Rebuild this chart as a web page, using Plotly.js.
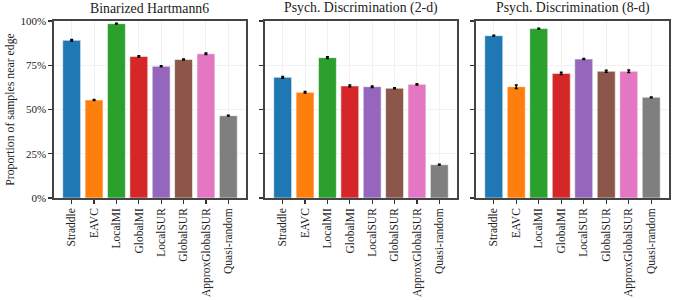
<!DOCTYPE html>
<html><head><meta charset="utf-8">
<script src="https://cdn.plot.ly/plotly-3.0.1.min.js"></script>
<style>body{margin:0;padding:0;background:#fff}#chart{width:675px;height:300px}</style>
</head><body><div id="chart"></div>
<script>
const categories = ["Straddle","EAVC","LocalMI","GlobalMI","LocalSUR","GlobalSUR","ApproxGlobalSUR","Quasi-random"];
const panelTitles = ["Binarized Hartmann6","Psych. Discrimination (2-d)","Psych. Discrimination (8-d)"];
const hartmannValues = [0.891,0.554,0.985,0.800,0.744,0.782,0.815,0.465];
const hartmannErrors = [0.004,0.003,0.002,0.004,0.003,0.003,0.004,0.002];
const psych2dValues = [0.682,0.597,0.793,0.633,0.629,0.620,0.642,0.188];
const psych2dErrors = [0.005,0.004,0.005,0.005,0.004,0.003,0.004,0.002];
const psych8dValues = [0.917,0.629,0.957,0.704,0.785,0.716,0.716,0.569];
const psych8dErrors = [0.002,0.010,0.002,0.006,0.003,0.006,0.007,0.002];
const yTickVals = [0,0.25,0.5,0.75,1];
const yTickText = ["0%","25%","50%","75%","100%"];
const colors = ["#1f77b4","#ff7f0e","#2ca02c","#d62728","#9467bd","#8c564b","#e377c2","#7f7f7f"];

const allValues = [hartmannValues, psych2dValues, psych8dValues];
const allErrors = [hartmannErrors, psych2dErrors, psych8dErrors];
const font = "Liberation Serif, DejaVu Serif, serif";

const traces = allValues.map((vals,i)=>({
  type:"bar", x:categories, y:vals,
  xaxis: i===0?"x":"x"+(i+1), yaxis: i===0?"y":"y"+(i+1),
  marker:{color:colors, line:{color:"rgba(255,255,255,0.55)", width:1}},
  width:0.8,
  error_y:{type:"data", array:allErrors[i], visible:true, color:"#000", thickness:1.5, width:1.5},
  hoverinfo:"skip", showlegend:false
}));

const l=54, r=6, W=675;
const pw = W-l-r;
const dom = [[53.5,246],[265,457],[476,669]].map(([a,b])=>[(a-l)/pw,(b-l)/pw]);

const layout = {
  width:675, height:300,
  margin:{l:l, r:r, t:21, b:102, pad:0},
  paper_bgcolor:"#fff", plot_bgcolor:"#fff",
  font:{family:font, size:11, color:"#222"},
  bargap:0.2,
  annotations: panelTitles.map((t,i)=>({
    text:t, xref:"paper", yref:"paper", x:(dom[i][0]+dom[i][1])/2, y:1, yshift:3,
    xanchor:"center", yanchor:"bottom", showarrow:false, font:{family:font,size:13.8,color:"#222"}
  }))
};
for(let i=0;i<3;i++){
  const s = i===0?"":String(i+1);
  layout["xaxis"+s] = {
    domain:[Math.max(0,dom[i][0]),Math.min(1,dom[i][1])], anchor:"y"+s,
    range:[-0.79,7.79], type:"category",
    tickangle:-90, ticks:"outside", ticklen:4, tickwidth:1.2, tickcolor:"#333",
    showline:true, linecolor:"#444", linewidth:1.6, mirror:true,
    showgrid:true, gridcolor:"#eeeeee", gridwidth:0.8,
    tickfont:{family:font,size:11.5,color:"#222"}, zeroline:false
  };
  layout["yaxis"+s] = {
    anchor:"x"+s, range:[0,1], tickvals:yTickVals, ticktext:yTickText,
    showticklabels:i===0,
    ticks:"outside", ticklen:4, tickwidth:1.2, tickcolor:"#333",
    showline:true, linecolor:"#444", linewidth:1.6, mirror:true,
    showgrid:true, gridcolor:"#eeeeee", gridwidth:0.8, zeroline:false,
    tickfont:{family:font,size:11,color:"#222"}
  };
}
layout.yaxis.title = {text:"Proportion of samples near edge", font:{family:font,size:11.8,color:"#222"}, standoff:3};
Plotly.newPlot("chart", traces, layout, {displayModeBar:false, staticPlot:true});
</script></body></html>
